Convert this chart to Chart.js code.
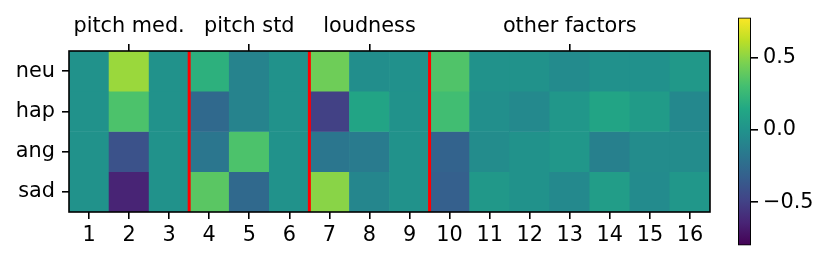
<!DOCTYPE html>
<html>
<head>
<meta charset="utf-8">
<script src="https://cdn.jsdelivr.net/npm/chart.js@4.4.1/dist/chart.umd.min.js"></script>
<style>
  body { margin: 0; background: #fff; }
  #wrap { position: relative; width: 831px; height: 263px; }
  canvas { position: absolute; left: 0; top: 0; }
</style>
</head>
<body>
<div id="wrap">
  <canvas id="heat" width="831" height="263"></canvas>
  <canvas id="cbar" width="831" height="263"></canvas>
</div>
<script>
// data
const rows = ['neu', 'hap', 'ang', 'sad'];
const cols = ['1','2','3','4','5','6','7','8','9','10','11','12','13','14','15','16'];
const groups = ['pitch med.', 'pitch std', 'loudness', 'other factors'];
const groupAt = [2, 5, 8, 13];
const splitAfter = [3, 6, 9];
const neu = [0.0, 0.54, 0.0, 0.2, -0.1, 0.0, 0.43, -0.03, -0.01, 0.34, 0.0, 0.0, -0.05, -0.01, -0.01, 0.04];
const hap = [0.0, 0.33, 0.0, -0.26, -0.1, 0.0, -0.5, 0.12, 0.0, 0.29, -0.02, -0.06, 0.03, 0.12, 0.06, -0.07];
const ang = [0.0, -0.4, 0.0, -0.18, 0.33, 0.0, -0.18, -0.15, 0.0, -0.3, -0.04, 0.0, 0.03, -0.12, -0.04, -0.04];
const sad = [0.0, -0.64, 0.0, 0.37, -0.26, 0.0, 0.5, -0.08, 0.0, -0.32, 0.04, 0.0, -0.06, 0.07, -0.05, 0.03];
const cbTicks = [-0.5, 0.0, 0.5];
const vmin = -0.8, vmax = 0.78;

const values = [neu, hap, ang, sad];

const viridis = [
  [68,1,84],[72,36,117],[65,68,135],[53,95,141],[42,120,142],[33,145,140],
  [34,168,132],[68,191,112],[122,209,81],[189,223,38],[253,231,37]
];
function cmap(t) {
  t = Math.max(0, Math.min(1, t));
  var p = t * 10, i = Math.min(9, Math.floor(p)), f = p - i;
  var a = viridis[i], b = viridis[i+1];
  return 'rgb(' + [0,1,2].map(k => Math.round(a[k] + (b[k]-a[k])*f)).join(',') + ')';
}
function colorOf(v) { return cmap((v - vmin) / (vmax - vmin)); }

const FONT = { family: 'DejaVu Sans', size: 20.8 };
const LW = 1.6;
Chart.defaults.color = '#000';

const datasets = rows.map((r, i) => ({
  label: r,
  data: values[i].map(() => [i - 0.5, i + 0.5]),
  backgroundColor: values[i].map(colorOf),
  borderWidth: 0,
  grouped: false,
  barPercentage: 1,
  categoryPercentage: 1
}));

const frame = {
  id: 'frame',
  afterDatasetsDraw(chart) {
    const ctx = chart.ctx, a = chart.chartArea, x = chart.scales.x;
    ctx.save();
    ctx.strokeStyle = 'red';
    ctx.lineWidth = 3;
    splitAfter.forEach(c => {
      var px = (x.getPixelForValue(c - 1) + x.getPixelForValue(c)) / 2;
      ctx.beginPath();
      ctx.moveTo(px, a.top);
      ctx.lineTo(px, a.bottom);
      ctx.stroke();
    });
    ctx.strokeStyle = '#000';
    ctx.lineWidth = LW;
    ctx.strokeRect(a.left, a.top, a.right - a.left, a.bottom - a.top);
    ctx.restore();
  }
};

function tickGrid() {
  return { drawOnChartArea: false, drawTicks: true, tickLength: 7, color: '#000', lineWidth: LW, offset: false };
}

new Chart(document.getElementById('heat'), {
  type: 'bar',
  data: { labels: cols, datasets: datasets },
  options: {
    responsive: false,
    animation: false,
    devicePixelRatio: 1,
    layout: { padding: { left: 0, right: 121, top: 0, bottom: 0 } },
    plugins: { legend: { display: false }, tooltip: { enabled: false } },
    scales: {
      x: {
        type: 'category',
        position: 'bottom',
        grid: tickGrid(),
        border: { display: false },
        ticks: { font: FONT, padding: 4, maxRotation: 0, autoSkip: false },
        afterFit(s) { s.height = 51; }
      },
      top: {
        type: 'linear',
        position: 'top',
        offset: false,
        min: 0.5,
        max: 16.5,
        grid: tickGrid(),
        border: { display: false },
        afterBuildTicks(s) { s.ticks = groupAt.map(v => ({ value: v })); },
        ticks: { font: FONT, padding: 5, maxRotation: 0, autoSkip: false,
          callback: (v) => groups[groupAt.indexOf(v)] },
        afterFit(s) { s.height = 51; }
      },
      y: {
        type: 'linear',
        reverse: true,
        min: -0.5,
        max: 3.5,
        grid: tickGrid(),
        border: { display: false },
        afterBuildTicks(s) { s.ticks = rows.map((r, i) => ({ value: i })); },
        ticks: { font: FONT, padding: 7, callback: (v) => rows[v] },
        afterFit(s) { s.width = 69; }
      }
    }
  },
  plugins: [frame]
});

// colour bar
function fmt(v) {
  if (v === 0) return '0.0';
  return (v < 0 ? '\u2212' : '') + Math.abs(v).toFixed(1);
}

new Chart(document.getElementById('cbar'), {
  type: 'bar',
  data: {
    labels: [''],
    datasets: [{
      data: [[vmin, vmax]],
      backgroundColor(c) {
        const a = c.chart.chartArea;
        if (!a) return null;
        const g = c.chart.ctx.createLinearGradient(0, a.bottom, 0, a.top);
        viridis.forEach((col, i) => g.addColorStop(i / 10, 'rgb(' + col.join(',') + ')'));
        return g;
      },
      borderColor: '#000',
      borderWidth: 1.3,
      borderSkipped: false,
      barPercentage: 1,
      categoryPercentage: 1
    }]
  },
  options: {
    responsive: false,
    animation: false,
    devicePixelRatio: 1,
    layout: { padding: { left: 738, right: 0, top: 15, bottom: 15 } },
    plugins: { legend: { display: false }, tooltip: { enabled: false } },
    scales: {
      x: { display: false },
      y: {
        type: 'linear',
        position: 'right',
        min: vmin,
        max: vmax,
        grid: tickGrid(),
        border: { display: false },
        afterBuildTicks(s) { s.ticks = cbTicks.map(v => ({ value: v })); },
        ticks: { font: FONT, padding: 5, callback: fmt },
        afterFit(s) { s.width = 80; }
      }
    }
  }
});
</script>
</body>
</html>
